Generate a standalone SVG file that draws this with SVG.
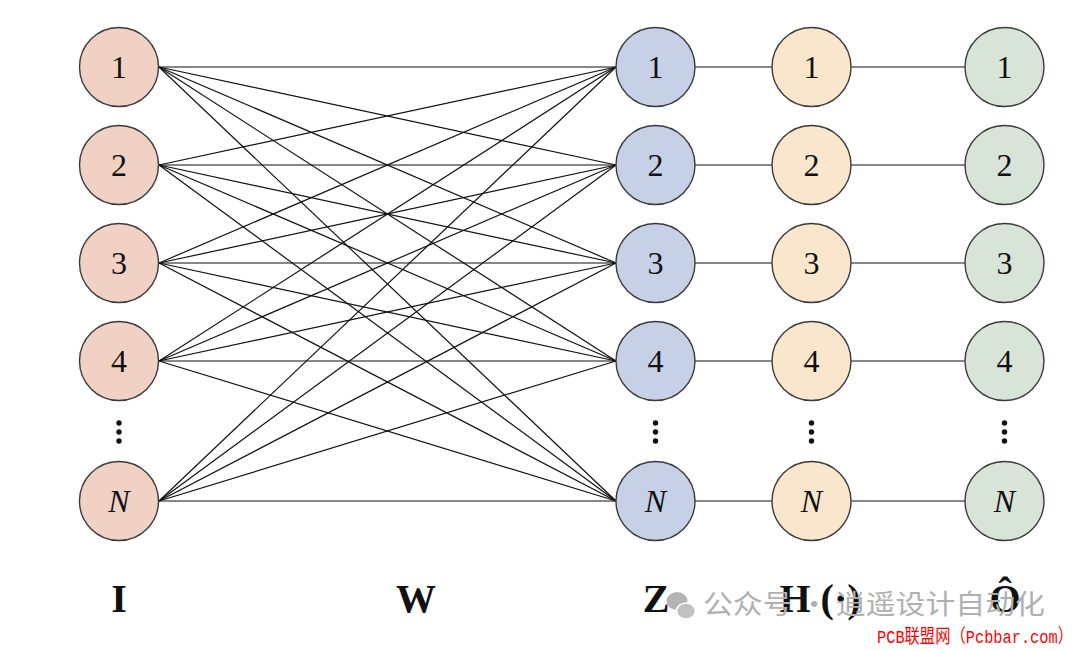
<svg xmlns="http://www.w3.org/2000/svg" width="1080" height="650" viewBox="0 0 1080 650">
<style>
.nd{stroke:#3a3a3a;stroke-width:1.4}
.i{fill:#f2d1c5}.z{fill:#c6d0e7}.h{fill:#fae6cd}.o{fill:#d9e4d9}
.t{font-family:"Liberation Serif",serif;font-size:32px;fill:#111;text-anchor:middle}
.it{font-style:italic}
.lb{font-family:"Liberation Serif",serif;font-size:40px;font-weight:bold;fill:#111;text-anchor:middle}
.c line{stroke:#111;stroke-width:1.2}
.dot{fill:#111}
.wm{font-family:"Noto Sans CJK SC",sans-serif;font-size:27px;fill:#b0b0b0}
.red{font-family:"Liberation Mono","Noto Sans CJK SC",monospace;font-size:19px;fill:#ff0000}
</style>
<rect width="1080" height="650" fill="#ffffff"/>
<g id="connectors" class="c">
<line x1="159" y1="67" x2="616" y2="67"/><line x1="159" y1="67" x2="616" y2="165"/><line x1="159" y1="67" x2="616" y2="263"/><line x1="159" y1="67" x2="616" y2="361"/><line x1="159" y1="67" x2="616" y2="501"/>
<line x1="159" y1="165" x2="616" y2="67"/><line x1="159" y1="165" x2="616" y2="165"/><line x1="159" y1="165" x2="616" y2="263"/><line x1="159" y1="165" x2="616" y2="361"/><line x1="159" y1="165" x2="616" y2="501"/>
<line x1="159" y1="263" x2="616" y2="67"/><line x1="159" y1="263" x2="616" y2="165"/><line x1="159" y1="263" x2="616" y2="263"/><line x1="159" y1="263" x2="616" y2="361"/><line x1="159" y1="263" x2="616" y2="501"/>
<line x1="159" y1="361" x2="616" y2="67"/><line x1="159" y1="361" x2="616" y2="165"/><line x1="159" y1="361" x2="616" y2="263"/><line x1="159" y1="361" x2="616" y2="361"/><line x1="159" y1="361" x2="616" y2="501"/>
<line x1="159" y1="501" x2="616" y2="67"/><line x1="159" y1="501" x2="616" y2="165"/><line x1="159" y1="501" x2="616" y2="263"/><line x1="159" y1="501" x2="616" y2="361"/><line x1="159" y1="501" x2="616" y2="501"/>
<line x1="695" y1="67" x2="772" y2="67"/><line x1="851" y1="67" x2="965" y2="67"/>
<line x1="695" y1="165" x2="772" y2="165"/><line x1="851" y1="165" x2="965" y2="165"/>
<line x1="695" y1="263" x2="772" y2="263"/><line x1="851" y1="263" x2="965" y2="263"/>
<line x1="695" y1="361" x2="772" y2="361"/><line x1="851" y1="361" x2="965" y2="361"/>
<line x1="695" y1="501" x2="772" y2="501"/><line x1="851" y1="501" x2="965" y2="501"/>
</g>
<g id="i1"><circle class="nd i" cx="119" cy="67" r="39.5"/><text class="t" x="119" y="78">1</text></g>
<g id="i2"><circle class="nd i" cx="119" cy="165" r="39.5"/><text class="t" x="119" y="176">2</text></g>
<g id="i3"><circle class="nd i" cx="119" cy="263" r="39.5"/><text class="t" x="119" y="274">3</text></g>
<g id="i4"><circle class="nd i" cx="119" cy="361" r="39.5"/><text class="t" x="119" y="372">4</text></g>
<g id="iN"><circle class="nd i" cx="119" cy="501" r="39.5"/><text class="t it" x="119" y="512">N</text></g>
<g id="z1"><circle class="nd z" cx="655.5" cy="67" r="39.5"/><text class="t" x="655.5" y="78">1</text></g>
<g id="z2"><circle class="nd z" cx="655.5" cy="165" r="39.5"/><text class="t" x="655.5" y="176">2</text></g>
<g id="z3"><circle class="nd z" cx="655.5" cy="263" r="39.5"/><text class="t" x="655.5" y="274">3</text></g>
<g id="z4"><circle class="nd z" cx="655.5" cy="361" r="39.5"/><text class="t" x="655.5" y="372">4</text></g>
<g id="zN"><circle class="nd z" cx="655.5" cy="501" r="39.5"/><text class="t it" x="655.5" y="512">N</text></g>
<g id="h1"><circle class="nd h" cx="811.5" cy="67" r="39.5"/><text class="t" x="811.5" y="78">1</text></g>
<g id="h2"><circle class="nd h" cx="811.5" cy="165" r="39.5"/><text class="t" x="811.5" y="176">2</text></g>
<g id="h3"><circle class="nd h" cx="811.5" cy="263" r="39.5"/><text class="t" x="811.5" y="274">3</text></g>
<g id="h4"><circle class="nd h" cx="811.5" cy="361" r="39.5"/><text class="t" x="811.5" y="372">4</text></g>
<g id="hN"><circle class="nd h" cx="811.5" cy="501" r="39.5"/><text class="t it" x="811.5" y="512">N</text></g>
<g id="o1"><circle class="nd o" cx="1004.5" cy="67" r="39.5"/><text class="t" x="1004.5" y="78">1</text></g>
<g id="o2"><circle class="nd o" cx="1004.5" cy="165" r="39.5"/><text class="t" x="1004.5" y="176">2</text></g>
<g id="o3"><circle class="nd o" cx="1004.5" cy="263" r="39.5"/><text class="t" x="1004.5" y="274">3</text></g>
<g id="o4"><circle class="nd o" cx="1004.5" cy="361" r="39.5"/><text class="t" x="1004.5" y="372">4</text></g>
<g id="oN"><circle class="nd o" cx="1004.5" cy="501" r="39.5"/><text class="t it" x="1004.5" y="512">N</text></g>
<g id="dots" class="dot">
<circle cx="119" cy="423" r="2.7"/><circle cx="119" cy="432" r="2.7"/><circle cx="119" cy="441" r="2.7"/>
<circle cx="655.5" cy="423" r="2.7"/><circle cx="655.5" cy="432" r="2.7"/><circle cx="655.5" cy="441" r="2.7"/>
<circle cx="811.5" cy="423" r="2.7"/><circle cx="811.5" cy="432" r="2.7"/><circle cx="811.5" cy="441" r="2.7"/>
<circle cx="1004.5" cy="423" r="2.7"/><circle cx="1004.5" cy="432" r="2.7"/><circle cx="1004.5" cy="441" r="2.7"/>
</g>
<g id="labels">
<text class="lb" x="119" y="612">I</text>
<text class="lb" x="416" y="612">W</text>
<text class="lb" x="656" y="612">Z</text>
<text class="lb" x="820" y="612">H (·)</text>
<text class="lb" x="1005" y="612">Ô</text>
</g>
<g id="watermark">
<ellipse cx="677" cy="601" rx="10.5" ry="9" fill="#b4b4b4"/>
<ellipse cx="686" cy="611" rx="9.5" ry="8" fill="#c2c2c2" stroke="#ffffff" stroke-width="1.5"/>
<text class="wm" x="703" y="614" textLength="342" lengthAdjust="spacingAndGlyphs">公众号 · 逍遥设计自动化</text>
<text class="red" x="877" y="643" textLength="196" lengthAdjust="spacingAndGlyphs">PCB联盟网（Pcbbar.com）</text>
</g>
</svg>
